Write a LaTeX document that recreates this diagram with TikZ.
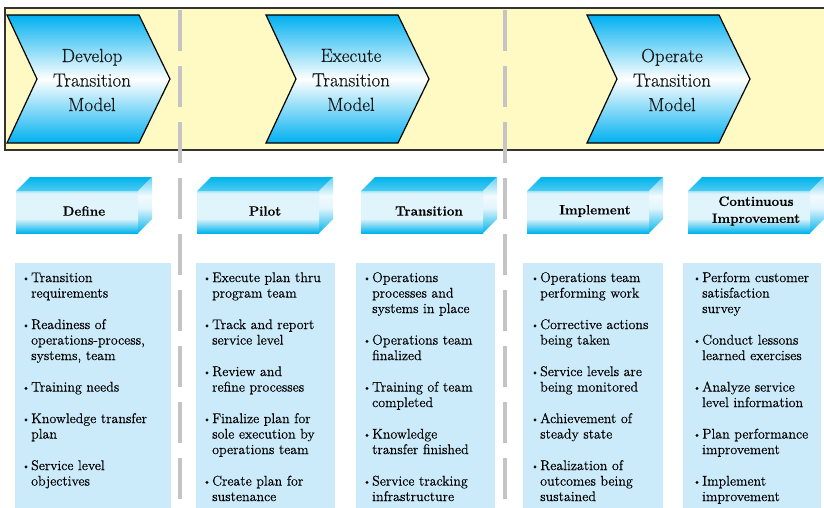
\documentclass[tikz,border=0pt]{standalone}
\usepackage{fontspec}
\setmainfont{Latin Modern Roman}[FakeBold=0.35]
\usepackage{xcolor}
\usepackage{tikz}
\usetikzlibrary{positioning, calc}

\definecolor{bandyellow}{RGB}{255,249,196}
\definecolor{chevcyan}{RGB}{0,176,240}
\definecolor{boxcyan}{RGB}{0,180,236}
\definecolor{boxpale}{RGB}{224,244,252}
\definecolor{listblue}{RGB}{204,235,250}
\definecolor{dashgray}{RGB}{196,196,196}

\pgfdeclareverticalshading{boxfront}{100bp}{color(0bp)=(boxcyan); color(25bp)=(boxcyan);
  color(42bp)=(boxpale); color(72bp)=(boxpale); color(75bp)=(boxcyan!25!boxpale); color(100bp)=(boxcyan!25!boxpale)}
\pgfdeclareverticalshading{boxside}{100bp}{color(0bp)=(boxcyan); color(25bp)=(boxcyan);
  color(47bp)=(boxpale); color(58bp)=(white!60!boxpale); color(75bp)=(boxcyan!55!boxpale); color(100bp)=(boxcyan!55!boxpale)}
\pgfdeclareverticalshading{boxtop}{100bp}{color(0bp)=(boxcyan!70!white); color(25bp)=(boxcyan!70!white);
  color(75bp)=(boxcyan); color(100bp)=(boxcyan)}

\newcommand{\bul}{\strut\makebox[9pt][l]{\raisebox{1pt}{\fontsize{9.5}{9.5}\selectfont\textbullet}}}
\newcommand{\cont}{\strut\makebox[9pt]{}}

\begin{document}
\begin{tikzpicture}[x=1pt, y=-1pt,
    chevron/.style={draw=black, line width=1.2pt, line join=miter,
      top color=chevcyan, bottom color=chevcyan, middle color=white},
    chevtext/.style={align=center, font=\fontsize{19}{24.5}\selectfont, text=black!90},
    phasetext/.style={align=center, font=\bfseries\fontsize{13.5}{17}\selectfont},
    listbox/.style={fill=listblue},
    listtext/.style={anchor=north west, inner sep=0pt, align=left,
      font=\fontsize{14}{15.5}\selectfont},
    divider/.style={draw=dashgray, line width=4pt, dash pattern=on 41pt off 15pt}]
    \useasboundingbox (0,0) rectangle (824,508);

    % phase band
    \draw[fill=bandyellow, draw=black!80, line width=1.3pt] (5,8) rectangle (834,150);
    \foreach \x in {180,505} {
        \draw[divider] (\x,10) -- (\x,520);
    }

    % chevrons
    \foreach \x/\word [count=\i] in {7/Develop, 266/Execute, 587/Operate} {
        \draw[chevron] (\x,15) -- ++(132,0) -- ++(31,64) -- ++(-31,64) -- ++(-132,0) -- ++(30,-64) -- cycle;
        \node[chevtext] (model-\i) at (\x+85,80) {\word\\Transition\\Model};
    }

    % 3d stage boxes
    \foreach \x/\name/\lbl in {16/define/Define, 197/pilot/Pilot, 361/transition/Transition,
                                527/implement/Implement, 688/improve/{Continuous\\Improvement}} {
        \shade[shading=boxtop] (\x,191) -- ++(14,-14) -- ++(122,0) -- ++(-14,14) -- cycle;
        \shade[shading=boxside] (\x+122,191) -- ++(14,-14) -- ++(0,42) -- ++(-14,14) -- cycle;
        \shade[shading=boxfront] (\x,191) rectangle ++(122,42);
        \node[phasetext] (\name) at (\x+68,211) {\lbl};
    }

    % activity lists
    \foreach \l/\r in {15/171, 196/335, 356/495, 523/663, 683/821} {
        \fill[listbox] (\l,263) rectangle (\r,520);
    }
    \node[listtext] (define-list) at (22,271) {\bul Transition\\ \cont requirements\\[16pt]
        \bul Readiness of\\ \cont operations-process,\\ \cont systems, team\\[16pt]
        \bul Training needs\\[16pt]
        \bul Knowledge transfer\\ \cont plan\\[16pt]
        \bul Service level\\ \cont objectives};
    \node[listtext] (pilot-list) at (203,271) {\bul Execute plan thru\\ \cont program team\\[16pt]
        \bul Track and report\\ \cont service level\\[16pt]
        \bul Review and\\ \cont refine processes\\[16pt]
        \bul Finalize plan for\\ \cont sole execution by\\ \cont operations team\\[16pt]
        \bul Create plan for\\ \cont sustenance};
    \node[listtext] (transition-list) at (363,271) {\bul Operations\\ \cont processes and\\ \cont systems in place\\[16pt]
        \bul Operations team\\ \cont finalized\\[16pt]
        \bul Training of team\\ \cont completed\\[16pt]
        \bul Knowledge\\ \cont transfer finished\\[16pt]
        \bul Service tracking\\ \cont infrastructure};
    \node[listtext] (implement-list) at (531,271) {\bul Operations team\\ \cont performing work\\[16pt]
        \bul Corrective actions\\ \cont being taken\\[16pt]
        \bul Service levels are\\ \cont being monitored\\[16pt]
        \bul Achievement of\\ \cont steady state\\[16pt]
        \bul Realization of\\ \cont outcomes being\\ \cont sustained};
    \node[listtext] (improve-list) at (693,271) {\bul Perform customer\\ \cont satisfaction\\ \cont survey\\[16pt]
        \bul Conduct lessons\\ \cont learned exercises\\[16pt]
        \bul Analyze service\\ \cont level information\\[16pt]
        \bul Plan performance\\ \cont improvement\\[16pt]
        \bul Implement\\ \cont improvement};
\end{tikzpicture}
\end{document}
